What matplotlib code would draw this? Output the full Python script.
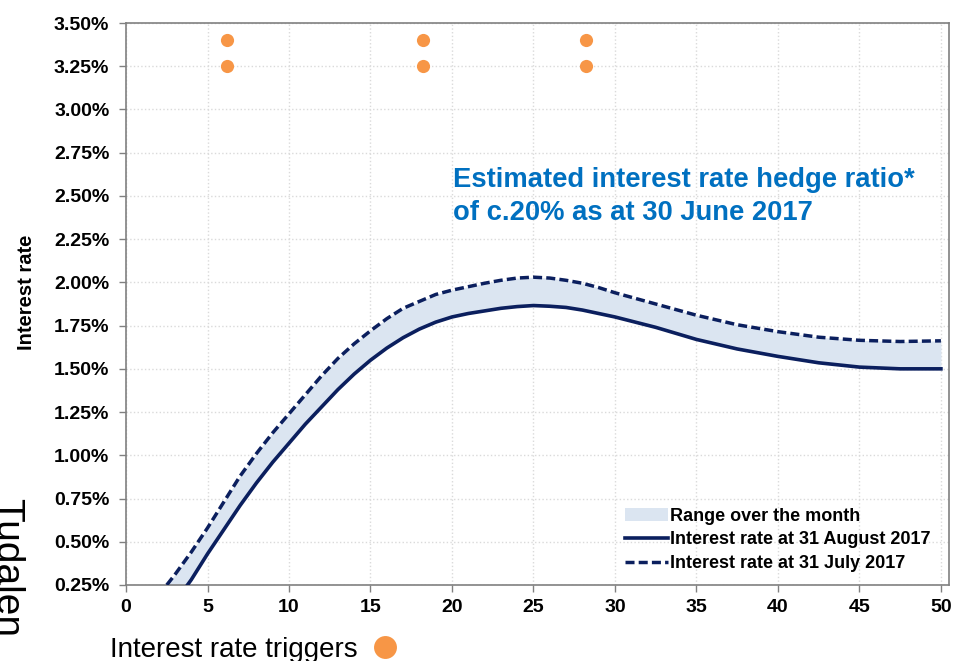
import numpy as np
import matplotlib.pyplot as plt
from matplotlib.lines import Line2D
from matplotlib.ticker import FuncFormatter

plt.rcParams['font.family'] = ['Liberation Sans', 'DejaVu Sans']

## curve values (years, % rate)
years = [2.5, 3, 4, 5, 6, 7, 8, 9, 10, 11, 12, 13, 14, 15, 16, 17, 18, 19, 20,
         21, 22, 23, 24, 25, 26, 27, 28, 29, 30,
         32.5, 35, 37.5, 40, 42.5, 45, 47.5, 50]
rate_aug = [0.09, 0.15, 0.28, 0.43, 0.57, 0.71, 0.84, 0.96, 1.07, 1.18, 1.28,
            1.38, 1.47, 1.55, 1.62, 1.68, 1.73, 1.77, 1.80,
            1.82, 1.835, 1.85, 1.86, 1.866, 1.862, 1.855, 1.84, 1.82, 1.80,
            1.74, 1.67, 1.615, 1.572, 1.535, 1.51, 1.50, 1.50]
rate_jul = [0.25, 0.31, 0.44, 0.58, 0.73, 0.88, 1.01, 1.13, 1.24, 1.35, 1.46,
            1.56, 1.645, 1.72, 1.79, 1.85, 1.89, 1.93, 1.955,
            1.975, 1.995, 2.012, 2.025, 2.03, 2.025, 2.012, 1.995, 1.97, 1.94,
            1.875, 1.81, 1.755, 1.715, 1.683, 1.665, 1.658, 1.662]

## trigger dots
trig_x = [6.2, 6.2, 18.2, 18.2, 28.2, 28.2]
trig_y = [3.40, 3.25, 3.40, 3.25, 3.40, 3.25]

navy = '#0b1f5e'
fill_c = '#dbe5f1'
orange = '#f79646'

fig = plt.figure(figsize=(9.57, 6.61), dpi=100)
ax = fig.add_axes([0.1317, 0.115, 0.860, 0.8502])

ax.fill_between(years, rate_aug, rate_jul, color=fill_c, lw=0,
                label='Range over the month', zorder=2)
ax.plot(years, rate_aug, color=navy, lw=2.6,
        label='Interest rate at 31 August 2017', zorder=3)
ax.plot(years, rate_jul, color=navy, lw=2.5, dash_capstyle='butt',
        ls=(0, (2.6, 1.2)), label='Interest rate at 31 July 2017', zorder=3)
ax.scatter(trig_x, trig_y, s=90, color=orange, zorder=4, lw=0)

ax.set_xlim(0, 50.5)
ax.set_ylim(0.25, 3.5)
ax.set_xticks(np.arange(0, 51, 5))
ax.set_yticks(np.arange(0.25, 3.51, 0.25))
ax.yaxis.set_major_formatter(FuncFormatter(lambda v, p: '%.2f%%' % v))
ax.tick_params(labelsize=14, length=5, color='#808080', width=1, pad=5)
ax.tick_params(axis='y', pad=7)
for lab in ax.get_xticklabels() + ax.get_yticklabels():
    lab.set_fontweight('bold')
ax.grid(True, color='#dadada', ls=':', lw=1.0, zorder=0)
for s in ax.spines.values():
    s.set_color('#808080')
    s.set_linewidth(1.2)

ax.set_ylabel('Interest rate', fontsize=14.5, fontweight='bold')
ax.yaxis.set_label_coords(-0.11, 0.52)

ax.text(20.05, 2.67, 'Estimated interest rate hedge ratio*\nof c.20% as at 30 June 2017',
        fontsize=19.7, fontweight='bold', color='#0070c0', va='top',
        linespacing=1.38)

leg = ax.legend(loc='lower right', frameon=False, fontsize=13,
                handlelength=2.4, handletextpad=0.1, labelspacing=0.38,
                borderaxespad=0.3, bbox_to_anchor=(0.993, 0.0))
for t in leg.get_texts():
    t.set_fontweight('bold')

fig.text(0.115, 0.006, 'Interest rate triggers', fontsize=20, va='baseline')
fig.add_artist(Line2D([0.4023], [0.021], marker='o', markersize=16.5, color=orange,
                      markeredgewidth=0, transform=fig.transFigure))
fig.text(-0.012, 0.247, 'Tudalen', fontsize=28, rotation=270, va='top', ha='left')

fig.savefig('out.png', dpi=100)
